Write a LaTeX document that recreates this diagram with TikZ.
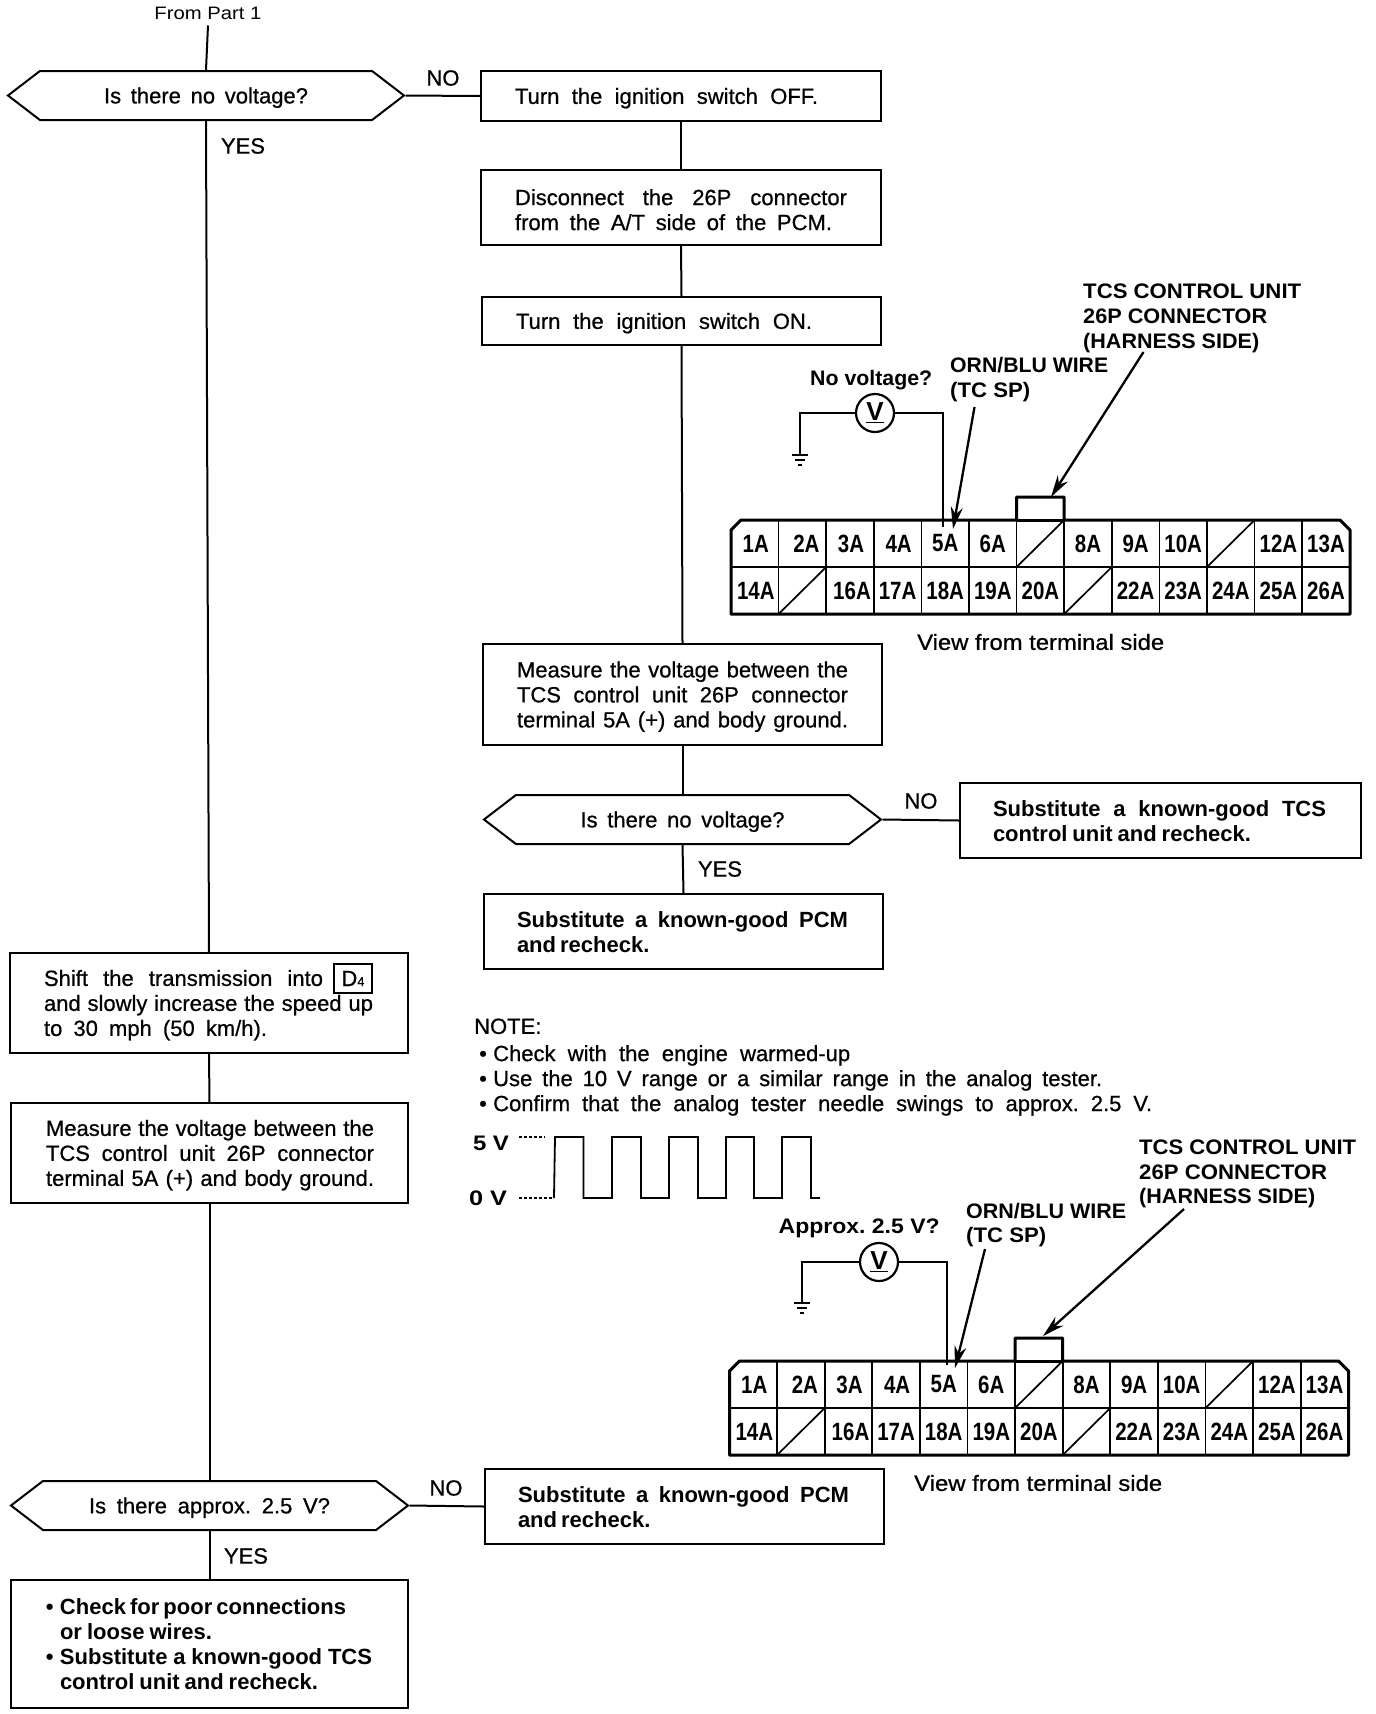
\documentclass[tikz,border=0pt]{standalone}
\usepackage{fontspec}
\usepackage{graphicx}
\usetikzlibrary{arrows.meta,shapes.symbols}
\setmainfont{Liberation Sans}
\newfontfamily\bodyf[FakeBold=0.7]{Liberation Sans}
\newfontfamily\cnf[FakeStretch=0.82]{Liberation Sans}
\frenchspacing
\newcommand\dnamt{-2.2pt}
\newcommand\dn[1]{\raisebox{\dnamt}[\height][\depth]{#1}}
\newcommand\just[2]{\makebox[#1pt][s]{\spaceskip=0pt\xspaceskip=0pt\relax #2}}
\newcommand\ltxt[3]{\hspace*{#1pt}\dn{\just{#2}{#3}}}
\newcommand\blt[3]{\hspace*{#1pt}\dn{\makebox[14pt][l]{•}\just{#2}{#3}}}
\newcommand\fitw[2]{\resizebox{#1pt}{\height}{#2}}
\tikzset{
  body/.style={font=\bodyf\fontsize{22}{25}\selectfont},
  strong/.style={font=\renewcommand\dnamt{-0.3pt}\bfseries\fontsize{22}{25}\selectfont},
  box/.style n args={2}{draw,line width=2pt,inner sep=0pt,text width=#1pt,minimum height=#2pt,align=left,body},
  hex/.style={draw,line width=2pt,inner sep=0pt,signal,signal to=east and west,signal pointer angle=75,minimum width=#1pt,minimum height=49pt,body},
  lab/.style={inner sep=0pt,anchor=west,body},
  blab/.style={inner sep=0pt,anchor=west,font=\bfseries\fontsize{21}{25}\selectfont},
  yn/.style={inner sep=0pt,body},
  flow/.style={line width=2pt},
  wire/.style={line width=2pt},
  pointer/.style={line width=2.3pt,-{Stealth[length=22pt,width=12pt]}},
  meter/.style={draw,circle,line width=2.2pt,minimum size=38pt,inner sep=0pt,font=\bfseries\fontsize{26}{28}\selectfont},
  pinlab/.style={inner sep=0pt,font=\cnf\bfseries\fontsize{25}{27}\selectfont},
  outline/.style={line width=3pt,line join=round},
  cell/.style={line width=1.7pt},
  midl/.style={line width=2.4pt},
  gnd/.style={line width=1.8pt}
}
\newcommand\conn[3]{%
\begin{scope}[shift={(#2,#3)}]
  \draw[outline] (0,94) -- (0,10) -- (10,0) -- (285.6,0) -- (285.6,-23) -- (333.2,-23) -- (333.2,0) -- (609,0) -- (619,10) -- (619,94) -- cycle;
  \draw[midl] (0,47) -- (619,47);
  \draw[outline] (285.6,0) -- (333.2,0);
  \foreach \i in {1,...,12} {\draw[cell] ({\i*47.6},0) -- ({\i*47.6},94);}
  \draw[cell] (285.6,47) -- (333.2,0);
  \draw[cell] (476,47) -- (523.6,0);
  \draw[cell] (47.6,94) -- (95.2,47);
  \draw[cell] (333.2,94) -- (380.8,47);
  \foreach \i/\t/\d in {0/1A/1,1/2A/4,2/3A/1,3/4A/1,4/5A/0,5/6A/0,7/8A/0,8/9A/0,9/10A/0,11/12A/0,12/13A/0}
    {\node[pinlab] (#1t\t) at ({(\i+.5)*47.6+\d},23.5) {\t};}
  \foreach \i/\t/\d in {0/14A/1,2/16A/2,3/17A/0,4/18A/0,5/19A/0,6/20A/0,8/22A/0,9/23A/0,10/24A/0,11/25A/0,12/26A/0}
    {\node[pinlab] (#1t\t) at ({(\i+.5)*47.6+\d},70.5) {\t};}
\end{scope}}
\newcommand\ground[1]{%
  \path (#1) coordinate (gtmp);
  \draw[gnd] ([xshift=-8pt]gtmp) -- ([xshift=8pt]gtmp);
  \draw[gnd] ([xshift=-5pt,yshift=-5pt]gtmp) -- ([xshift=5pt,yshift=-5pt]gtmp);
  \draw[gnd] ([xshift=-2pt,yshift=-10pt]gtmp) -- ([xshift=2pt,yshift=-10pt]gtmp);}
\begin{document}
\begin{tikzpicture}[x=1pt,y=-1pt]
\useasboundingbox (0,0) rectangle (1376,1714);
\fill[white] (0,0) rectangle (1376,1714);

% left column
\node[inner xsep=0pt,inner ysep=6pt,font=\fontsize{18}{20}\selectfont] (from) at (208,13) {\fitw{107}{From Part 1}};
\node[hex=396] (hexA) at (206,95.5) {\dn{\just{204}{Is there no voltage?}}};
\node[box={398}{100}] (shift) at (209,1003) {\ltxt{34}{279}{Shift the transmission into}\\\ltxt{34}{329}{and slowly increase the speed up}\\\ltxt{34}{223}{to 30 mph (50 km/h).}};
\node[draw,line width=1.5pt,inner sep=0pt,minimum width=38pt,minimum height=29pt,body] (dfour) at (353,978.5) {D{\fontsize{13}{13}\selectfont 4}};
\node[box={397}{100}] (measL) at (209.5,1153) {\ltxt{35}{328}{Measure the voltage between the}\\\ltxt{35}{328}{TCS control unit 26P connector}\\\ltxt{35}{328}{terminal 5A (+) and body ground.}};
\node[hex=397] (hexC) at (209.5,1505.5) {\dn{\just{241}{Is there approx. 2.5 V?}}};
\node[box={397}{128},strong] (final) at (209.5,1644) {\blt{35}{285}{Check for poor connections}\\\ltxt{49}{152}{or loose wires.}\\\blt{35}{312}{Substitute a known-good TCS}\\\ltxt{49}{258}{control unit and recheck.}};

% centre column
\node[box={400}{50}] (off) at (681,96) {\ltxt{34}{303}{Turn the ignition switch OFF.}};
\node[box={400}{75}] (disc) at (681,207.5) {\ltxt{34}{332}{Disconnect the 26P connector}\\\ltxt{34}{317}{from the A/T side of the PCM.}};
\node[box={399}{48}] (on) at (681.5,321) {\ltxt{34}{296}{Turn the ignition switch ON.}};
\node[box={399}{101}] (meas) at (682.5,694.5) {\ltxt{34}{331}{Measure the voltage between the}\\\ltxt{34}{331}{TCS control unit 26P connector}\\\ltxt{34}{331}{terminal 5A (+) and body ground.}};
\node[hex=397] (hexB) at (682.5,819.5) {\dn{\just{204}{Is there no voltage?}}};
\node[box={401}{75},strong] (subA) at (1160.5,820.5) {\ltxt{33}{333}{Substitute a known-good TCS}\\\ltxt{33}{258}{control unit and recheck.}};
\node[box={399}{75},strong] (subB) at (683.5,931.5) {\ltxt{33}{331}{Substitute a known-good PCM}\\\ltxt{33}{130}{and recheck.}};
\node[box={399}{75},strong] (subC) at (684.5,1506.5) {\ltxt{33}{331}{Substitute a known-good PCM}\\\ltxt{33}{130}{and recheck.}};

% flow lines
\draw[flow] (from.south) -- (hexA.north);
\draw[flow] (hexA.south) -- (shift.north);
\draw[flow] (shift.south) -- (measL.north);
\draw[flow] (measL.south) -- (hexC.north);
\draw[flow] (hexC.south) -- (final.north);
\draw[flow] (hexA.east) -- (off.west);
\draw[flow] (off.south) -- (disc.north);
\draw[flow] (disc.south) -- (on.north);
\draw[flow] (on.south) -- (meas.north);
\draw[flow] (meas.south) -- (hexB.north);
\draw[flow] (hexB.south) -- (subB.north);
\draw[flow] (hexB.east) -- (subA.west);
\draw[flow] (hexC.east) -- (subC.west);

% yes / no
\node[yn] (noA) at (443,78) {NO};
\node[yn] (yesA) at (243,146) {YES};
\node[yn] (noB) at (921,801) {NO};
\node[yn] (yesB) at (720,869) {YES};
\node[yn] (noC) at (446,1488) {NO};
\node[yn] (yesC) at (246,1556) {YES};

% note
\node[lab,align=left,text width=720pt] (notes) at (474,1066) {NOTE:\\\blt{5}{357}{Check with the engine warmed-up}\\\blt{5}{609}{Use the 10 V range or a similar range in the analog tester.}\\\blt{5}{659}{Confirm that the analog tester needle swings to approx. 2.5 V.}};

% waveform
\node[blab,anchor=center] (five) at (491,1143) {\fitw{36}{5 V}};
\node[blab,anchor=center] (zero) at (488,1198) {\fitw{38}{0 V}};
\draw[line width=1.6pt,dash pattern=on 3pt off 2pt] (five.east)+(10,-6) coordinate (fa) -- (545,1137);
\draw[line width=1.6pt,dash pattern=on 3pt off 2pt] (zero.east)+(12,0) coordinate (za) -- (554,1198);
\draw[line width=1.8pt] (554,1198) -- (555,1137) -- (583.5,1137) -- (583.5,1198) -- (612,1198) -- (612,1137) -- (641,1137) -- (641,1198) -- (669,1198) -- (669,1137) -- (698,1137) -- (698,1198) -- (726,1198) -- (726,1137) -- (754,1137) -- (754,1198) -- (782,1198) -- (782,1137) -- (811,1137) -- (811,1198) -- (820,1198);

% connector 1
\conn{a}{731}{520}
\node[meter] (va) at (875,413) {\underline{V}};
\coordinate (ga) at (800,455);
\coordinate (ta) at (943,527);
\draw[wire] (va.west) -| (ga);
\draw[wire] (va.east) -| (ta);
\ground{ga}
\node[blab] (qa) at (810,380) {\fitw{122}{No voltage?}};
\node[blab] (wa) at (950,365) {\fitw{158}{ORN/BLU WIRE}};
\node[blab] (wb) at (950,392) {\fitw{80}{(TC SP)}};
\node[blab] (ua) at (1083,291) {\fitw{218}{TCS CONTROL UNIT}};
\node[blab] (ub) at (1083,316) {\fitw{184}{26P CONNECTOR}};
\node[blab] (uc) at (1083,343) {\fitw{176}{(HARNESS SIDE)}};
\node[lab] (viewa) at (917,642) {\fitw{247}{View from terminal side}};
\coordinate (pa) at (974.5,407);
\coordinate (pb) at (953,529);
\coordinate (pc) at (1143.5,352);
\coordinate (pd) at (1051,497);
\draw[pointer] (pa) -- (pb);
\draw[pointer] (pc) -- (pd);

% connector 2
\conn{b}{729.5}{1361}
\node[meter] (vb) at (879,1262) {\underline{V}};
\coordinate (gb) at (802,1303);
\coordinate (tb) at (947,1365);
\draw[wire] (vb.west) -| (gb);
\draw[wire] (vb.east) -| (tb);
\ground{gb}
\node[blab] (qb) at (778.5,1228) {\fitw{161}{Approx. 2.5 V?}};
\node[blab] (xa) at (966,1211) {\fitw{160}{ORN/BLU WIRE}};
\node[blab] (xb) at (966,1237) {\fitw{80}{(TC SP)}};
\node[blab] (ya) at (1139,1147) {\fitw{217}{TCS CONTROL UNIT}};
\node[blab] (yb) at (1139,1172) {\fitw{188}{26P CONNECTOR}};
\node[blab] (yc) at (1139,1198) {\fitw{176}{(HARNESS SIDE)}};
\node[lab] (viewb) at (914,1483) {\fitw{248}{View from terminal side}};
\coordinate (qa1) at (985,1249);
\coordinate (qa2) at (955,1368);
\coordinate (qa3) at (1184,1209);
\coordinate (qa4) at (1043,1336);
\draw[pointer] (qa1) -- (qa2);
\draw[pointer] (qa3) -- (qa4);
\end{tikzpicture}
\end{document}
